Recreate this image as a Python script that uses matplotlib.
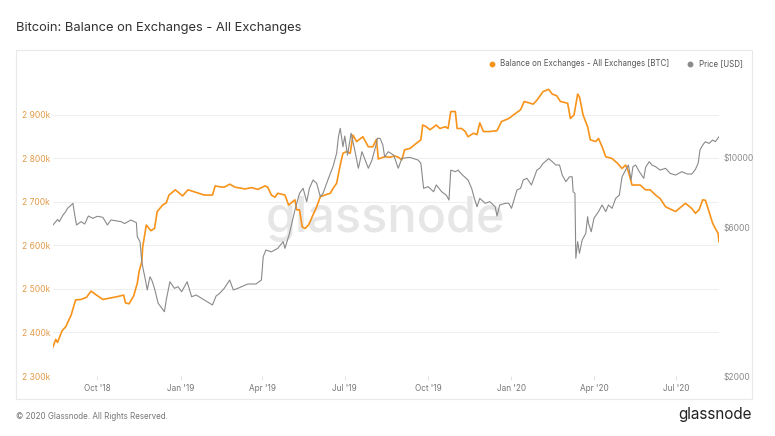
import matplotlib
matplotlib.use("Agg")
import matplotlib.pyplot as plt
import matplotlib.dates as mdates
from matplotlib.patches import Rectangle
from matplotlib.lines import Line2D
from matplotlib.ticker import FixedLocator, NullLocator, FuncFormatter
import pandas as pd

plt.rcParams['font.family'] = ['Inter', 'DejaVu Sans']

# Balance on exchanges, thousands of BTC
bal_dates = [
    "2018-08-13", "2018-08-16", "2018-08-18", "2018-08-23", "2018-08-27", "2018-09-02", "2018-09-07",
    "2018-09-13", "2018-09-19", "2018-09-24", "2018-09-30", "2018-10-07", "2018-10-22", "2018-10-30",
    "2018-11-01", "2018-11-05", "2018-11-10", "2018-11-14", "2018-11-16", "2018-11-19", "2018-11-20",
    "2018-11-24", "2018-11-29", "2018-12-03", "2018-12-06", "2018-12-12", "2018-12-16", "2018-12-19",
    "2018-12-26", "2019-01-03", "2019-01-09", "2019-01-18", "2019-01-27", "2019-02-05", "2019-02-08",
    "2019-02-13", "2019-02-18", "2019-02-24", "2019-03-02", "2019-03-13", "2019-03-20", "2019-03-27",
    "2019-04-04", "2019-04-07", "2019-04-11", "2019-04-15", "2019-04-18", "2019-04-26", "2019-04-30",
    "2019-05-07", "2019-05-09", "2019-05-12", "2019-05-15", "2019-05-18", "2019-05-22", "2019-05-26",
    "2019-05-31", "2019-06-04", "2019-06-09", "2019-06-15", "2019-06-18", "2019-06-22", "2019-06-26",
    "2019-06-29", "2019-07-03", "2019-07-07", "2019-07-10", "2019-07-14", "2019-07-21", "2019-07-27",
    "2019-08-01", "2019-08-05", "2019-08-07", "2019-08-14", "2019-08-20", "2019-08-25", "2019-08-29",
    "2019-09-02", "2019-09-05", "2019-09-11", "2019-09-18", "2019-09-23", "2019-09-25", "2019-09-29",
    "2019-10-03", "2019-10-10", "2019-10-14", "2019-10-20", "2019-10-23", "2019-10-26", "2019-10-31",
    "2019-11-02", "2019-11-07", "2019-11-11", "2019-11-14", "2019-11-20", "2019-11-24", "2019-11-27",
    "2019-12-01", "2019-12-08", "2019-12-16", "2019-12-21", "2019-12-29", "2020-01-03", "2020-01-11",
    "2020-01-15", "2020-01-25", "2020-01-29", "2020-02-05", "2020-02-11", "2020-02-15", "2020-02-20",
    "2020-02-24", "2020-03-03", "2020-03-06", "2020-03-10", "2020-03-14", "2020-03-16", "2020-03-20",
    "2020-03-25", "2020-03-28", "2020-04-03", "2020-04-06", "2020-04-10", "2020-04-14", "2020-04-21",
    "2020-04-27", "2020-05-02", "2020-05-06", "2020-05-09", "2020-05-13", "2020-05-22", "2020-05-28",
    "2020-06-02", "2020-06-08", "2020-06-13", "2020-06-19", "2020-06-30", "2020-07-11", "2020-07-18",
    "2020-07-22", "2020-07-26", "2020-07-30", "2020-08-02", "2020-08-06", "2020-08-10", "2020-08-13",
    "2020-08-16", "2020-08-17",
]
bal_values = [
    2367, 2384, 2377, 2404, 2413, 2440, 2475,
    2476, 2481, 2495, 2486, 2476, 2482, 2486,
    2468, 2466, 2484, 2513, 2540, 2563, 2597,
    2647, 2634, 2639, 2678, 2693, 2698, 2716,
    2728, 2714, 2728, 2722, 2716, 2716, 2737,
    2735, 2734, 2741, 2734, 2730, 2733, 2729,
    2737, 2734, 2716, 2711, 2720, 2716, 2693,
    2705, 2682, 2682, 2643, 2639, 2647, 2666,
    2689, 2712, 2716, 2720, 2731, 2743, 2785,
    2812, 2816, 2812, 2854, 2839, 2850, 2827,
    2827, 2844, 2799, 2804, 2803, 2806, 2803,
    2797, 2820, 2823, 2835, 2843, 2877, 2873,
    2866, 2877, 2869, 2873, 2869, 2908, 2908,
    2869, 2869, 2862, 2850, 2858, 2855, 2882,
    2862, 2862, 2864, 2885, 2892, 2900, 2912,
    2931, 2925, 2934, 2954, 2959, 2948, 2944,
    2931, 2927, 2892, 2900, 2948, 2942, 2900,
    2873, 2843, 2839, 2846, 2827, 2804, 2800,
    2789, 2777, 2785, 2770, 2739, 2739, 2728,
    2728, 2716, 2708, 2689, 2678, 2697, 2685,
    2674, 2682, 2705, 2704, 2678, 2651, 2639,
    2628, 2609,
]

# Price, USD
price_dates = [
    "2018-08-13", "2018-08-16", "2018-08-18", "2018-08-20", "2018-08-24", "2018-08-27", "2018-08-29",
    "2018-09-01", "2018-09-04", "2018-09-06", "2018-09-08", "2018-09-13", "2018-09-17", "2018-09-21",
    "2018-09-26", "2018-10-01", "2018-10-07", "2018-10-12", "2018-10-16", "2018-10-27", "2018-10-31",
    "2018-11-07", "2018-11-13", "2018-11-14", "2018-11-17", "2018-11-19", "2018-11-20", "2018-11-23",
    "2018-11-25", "2018-11-28", "2018-11-30", "2018-12-03", "2018-12-07", "2018-12-14", "2018-12-16",
    "2018-12-20", "2018-12-25", "2018-12-29", "2019-01-02", "2019-01-08", "2019-01-13", "2019-01-18",
    "2019-01-27", "2019-02-05", "2019-02-09", "2019-02-13", "2019-02-18", "2019-02-24", "2019-02-28",
    "2019-03-05", "2019-03-16", "2019-03-25", "2019-03-31", "2019-04-02", "2019-04-05", "2019-04-11",
    "2019-04-18", "2019-04-24", "2019-04-26", "2019-05-01", "2019-05-07", "2019-05-12", "2019-05-16",
    "2019-05-20", "2019-05-23", "2019-05-27", "2019-05-31", "2019-06-04", "2019-06-07", "2019-06-13",
    "2019-06-18", "2019-06-22", "2019-06-24", "2019-06-26", "2019-06-29", "2019-07-01", "2019-07-04",
    "2019-07-08", "2019-07-12", "2019-07-16", "2019-07-20", "2019-07-27", "2019-07-31", "2019-08-04",
    "2019-08-06", "2019-08-09", "2019-08-12", "2019-08-14", "2019-08-18", "2019-08-24", "2019-08-29",
    "2019-09-02", "2019-09-11", "2019-09-20", "2019-09-23", "2019-09-26", "2019-10-01", "2019-10-07",
    "2019-10-10", "2019-10-16", "2019-10-21", "2019-10-24", "2019-10-26", "2019-10-31", "2019-11-03",
    "2019-11-08", "2019-11-14", "2019-11-18", "2019-11-21", "2019-11-24", "2019-11-27", "2019-12-03",
    "2019-12-08", "2019-12-14", "2019-12-16", "2019-12-19", "2019-12-25", "2019-12-29", "2020-01-01",
    "2020-01-07", "2020-01-11", "2020-01-14", "2020-01-18", "2020-01-23", "2020-01-29", "2020-02-01",
    "2020-02-05", "2020-02-11", "2020-02-15", "2020-02-19", "2020-02-23", "2020-02-26", "2020-03-01",
    "2020-03-05", "2020-03-08", "2020-03-09", "2020-03-11", "2020-03-12", "2020-03-14", "2020-03-16",
    "2020-03-19", "2020-03-23", "2020-03-25", "2020-03-26", "2020-03-29", "2020-04-01", "2020-04-06",
    "2020-04-10", "2020-04-14", "2020-04-17", "2020-04-21", "2020-04-25", "2020-04-29", "2020-05-02",
    "2020-05-06", "2020-05-09", "2020-05-12", "2020-05-14", "2020-05-17", "2020-05-21", "2020-05-26",
    "2020-05-28", "2020-06-01", "2020-06-04", "2020-06-08", "2020-06-13", "2020-06-19", "2020-06-24",
    "2020-06-30", "2020-07-07", "2020-07-13", "2020-07-18", "2020-07-22", "2020-07-25", "2020-07-27",
    "2020-07-30", "2020-08-02", "2020-08-06", "2020-08-10", "2020-08-13", "2020-08-17",
]
price_values = [
    6096, 6250, 6350, 6250, 6560, 6727, 6894,
    7013, 7154, 6560, 6096, 6250, 6140, 6514,
    6404, 6500, 6450, 6096, 6325, 6250, 6160,
    6325, 6200, 5593, 5390, 4648, 4480, 4060,
    3773, 4160, 4060, 3820, 3422, 3214, 3506,
    4010, 3820, 3866, 3725, 4010, 3590, 3636,
    3506, 3378, 3610, 3682, 3820, 4060, 3773,
    3820, 3944, 3944, 4060, 4825, 5068, 5000,
    5130, 5390, 5130, 5730, 6808, 7700, 7992,
    7240, 7992, 8500, 8290, 7512, 7700, 8604,
    9376, 10348, 11696, 12440, 10860, 11750, 10210,
    12000, 10600, 9264, 10470, 9264, 9840, 10860,
    11560, 11560, 11000, 10080, 10470, 10210, 9264,
    9970, 10040, 9840, 9610, 7990, 8090, 7790,
    8190, 7790, 7600, 7330, 9140, 9034, 9140,
    8810, 8500, 7990, 7420, 6976, 7420, 7154,
    7240, 6976, 6514, 7064, 7154, 7154, 6894,
    7890, 7990, 8500, 8604, 8190, 9140, 9264,
    9610, 9950, 9726, 9490, 9490, 8810, 8390,
    8700, 8700, 7790, 7700, 4768, 5390, 4946,
    5456, 5730, 6482, 6170, 5800, 6404, 6727,
    7064, 6727, 7064, 6894, 7420, 7600, 8700,
    9140, 9490, 8500, 9376, 9490, 9034, 8604,
    9334, 9726, 9490, 9376, 9140, 9264, 8928,
    8810, 9034, 8880, 8880, 9194, 9610, 10600,
    11000, 11270, 11130, 11410, 11270, 11696,
]

bal_ticks = [2300, 2400, 2500, 2600, 2700, 2800, 2900]
price_ticks = [2000, 6000, 10000]

ORANGE = "#f7931a"
GREY = "#8a8a8a"

W, H = 775, 436
fig = plt.figure(figsize=(W / 100, H / 100), dpi=100)
fig.patch.set_facecolor("white")

# panel frame (outline only, so it never hides the axes)
fig.patches.append(Rectangle((16 / W, 1 - 399 / H), 736 / W, 349 / H, transform=fig.transFigure,
                             facecolor="none", edgecolor="#e9e9e9", lw=0.8, zorder=-1))

# axes area: x 53..719 px, y 71.5..376 px
ax = fig.add_axes([53 / W, 1 - 376 / H, 666 / W, 304.5 / H])
ax.set_facecolor("none")
ax2 = ax.twinx()

bd = pd.to_datetime(bal_dates)
pdts = pd.to_datetime(price_dates)

ax.plot(bd, bal_values, color=ORANGE, lw=1.2, zorder=3, solid_joinstyle="round")
ax2.plot(pdts, price_values, color=GREY, lw=0.8, zorder=3)

ax.set_xlim(bd[0], bd[-1])
ax.set_ylim(2300, 3000)
ax2.set_yscale("log")
ax2.set_ylim(2000, 2000 * 10 ** (304.5 / 312))

ax.yaxis.set_major_locator(FixedLocator(bal_ticks))
ax.yaxis.set_major_formatter(FuncFormatter(lambda v, p: f"{int(v) // 1000} {int(v) % 1000:03d}k"))
ax2.yaxis.set_major_locator(FixedLocator(price_ticks))
ax2.yaxis.set_minor_locator(NullLocator())
ax2.yaxis.set_major_formatter(FuncFormatter(lambda v, p: f"${int(v)}"))

ax.xaxis.set_major_locator(mdates.MonthLocator(bymonth=[1, 4, 7, 10]))
ax.xaxis.set_major_formatter(mdates.DateFormatter("%b '%y"))

ax.grid(axis="y", color="#efefef", lw=0.8)
ax.set_axisbelow(True)
for a in (ax, ax2):
    for s in a.spines.values():
        s.set_visible(False)

ax.tick_params(axis="y", length=0, pad=2, labelsize=6.1, labelcolor="#e39b4a")
ax2.tick_params(axis="y", length=0, pad=3, labelsize=6.1, labelcolor="#8a8a8a")
ax.tick_params(axis="x", length=3, width=0.6, color="#dddddd", pad=3, labelsize=5.9, labelcolor="#777777")

# watermark
ax.text(0.5, 0.515, "glassnode", transform=ax.transAxes, ha="center", va="center",
        fontsize=35, fontweight="medium", color="#e6e6e6", zorder=1)

# legend
handles = [Line2D([], [], marker="o", ls="none", ms=3.2, color=ORANGE),
           Line2D([], [], marker="o", ls="none", ms=3.2, color=GREY)]
fig.legend(handles, ["Balance on Exchanges - All Exchanges [BTC]", "Price [USD]"],
           loc="center right", bbox_to_anchor=(747 / W, 1 - 64 / H), ncol=2, frameon=False,
           fontsize=5.7, handletextpad=0.1, columnspacing=1.6, borderpad=0, labelcolor="#555555")

fig.text(16 / W, 1 - 28 / H, "Bitcoin: Balance on Exchanges - All Exchanges",
         fontsize=9.3, color="#333333", va="center", ha="left")
fig.text(16 / W, 1 - 416 / H, "© 2020 Glassnode. All Rights Reserved.",
         fontsize=5.8, color="#777777", va="center", ha="left")
fig.text(752 / W, 1 - 414 / H, "glassnode", fontsize=11, color="#222222", va="center", ha="right")

fig.savefig("out.png", dpi=100)
